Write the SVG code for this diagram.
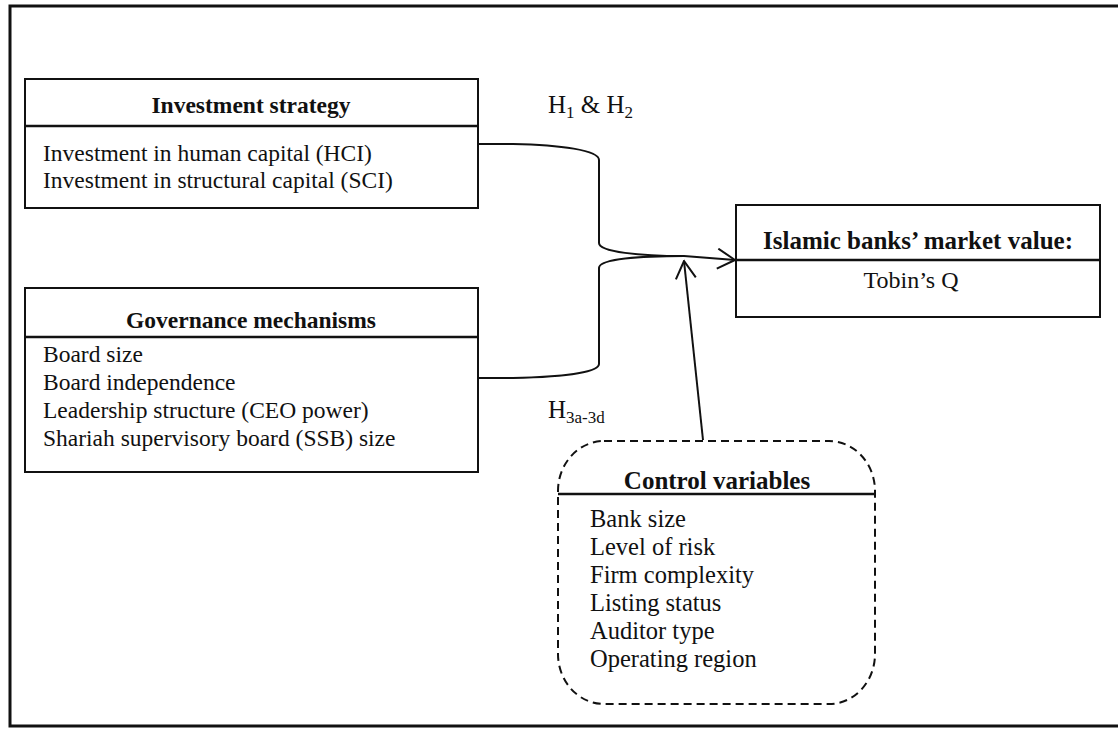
<svg xmlns="http://www.w3.org/2000/svg" width="1118" height="729" viewBox="0 0 1118 729">
<defs>
<style>
.t{font-family:"Liberation Serif","Times New Roman",serif;font-size:23.5px;fill:#111}
.b{font-weight:bold;text-anchor:middle}
.c{font-size:24.5px}
.box{fill:#fff;stroke:#111;stroke-width:2}
.div{stroke:#111;stroke-width:2.5}
.con{fill:none;stroke:#111;stroke-width:2}
.sub{font-size:17px}
</style>
<marker id="arr" viewBox="0 0 20 22" refX="18.5" refY="11" markerWidth="20" markerHeight="22" markerUnits="userSpaceOnUse" orient="auto">
<path d="M1,1 L18.5,11 L1,21" fill="none" stroke="#111" stroke-width="2"/>
</marker>
</defs>
<rect width="1118" height="729" fill="#fff"/>
<path d="M1122,6 H10 V726 H1122" fill="none" stroke="#111" stroke-width="3"/>

<g id="investment">
<rect class="box" x="25" y="79" width="453" height="129"/>
<line class="div" x1="25" y1="126" x2="478" y2="126"/>
<text class="t b" x="251" y="113">Investment strategy</text>
<text class="t" x="43" y="161">Investment in human capital (HCI)</text>
<text class="t" x="43" y="188">Investment in structural capital (SCI)</text>
</g>

<g id="governance">
<rect class="box" x="25" y="288" width="453" height="184"/>
<line class="div" x1="25" y1="337" x2="478" y2="337"/>
<text class="t b" x="251" y="328">Governance mechanisms</text>
<text class="t" x="43" y="362">Board size</text>
<text class="t" x="43" y="390">Board independence</text>
<text class="t" x="43" y="418">Leadership structure (CEO power)</text>
<text class="t" x="43" y="446">Shariah supervisory board (SSB) size</text>
</g>

<g id="market">
<rect class="box" x="736" y="205" width="364" height="112"/>
<line class="div" x1="736" y1="260" x2="1100" y2="260"/>
<text class="t b" x="918" y="249" style="font-size:25px">Islamic banks’ market value:</text>
<text class="t" x="911" y="288" text-anchor="middle" style="font-size:24px">Tobin’s Q</text>
</g>

<g id="control">
<rect x="558" y="441" width="317" height="263" rx="46" ry="50" fill="#fff" stroke="#111" stroke-width="2" stroke-dasharray="8,5"/>
<line class="div" x1="558" y1="494" x2="875" y2="494"/>
<text class="t b" x="717" y="489" style="font-size:25px">Control variables</text>
<text class="t c" x="590" y="527">Bank size</text>
<text class="t c" x="590" y="555">Level of risk</text>
<text class="t c" x="590" y="583">Firm complexity</text>
<text class="t c" x="590" y="611">Listing status</text>
<text class="t c" x="590" y="639">Auditor type</text>
<text class="t c" x="590" y="667">Operating region</text>
</g>

<g id="connectors">
<path class="con" d="M478,144 L513,144 C560,145 599,150 599,160 V243 C599,252 640,256 684,256 L735,260" marker-end="url(#arr)"/>
<path class="con" d="M478,378 L513,378 C560,377 599,373 599,364 V268 C599,259 640,256 684,256"/>
<path class="con" d="M703,440 L684,261" marker-end="url(#arr)"/>
</g>

<g id="labels">
<text class="t" x="548" y="113" style="font-size:25px">H<tspan class="sub" dy="5">1</tspan><tspan dy="-5"> &amp; H</tspan><tspan class="sub" dy="5">2</tspan></text>
<text class="t" x="548" y="418" style="font-size:25px">H<tspan class="sub" dy="5">3a-3d</tspan></text>
</g>
</svg>
